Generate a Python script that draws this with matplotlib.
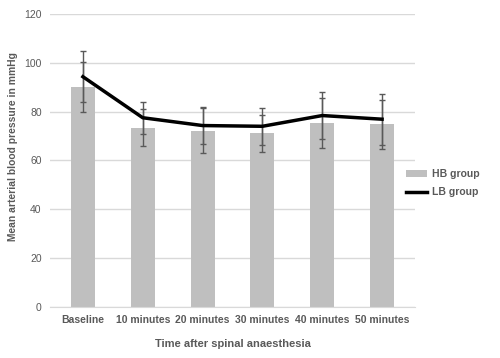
import matplotlib
matplotlib.use("Agg")

import matplotlib.pyplot as plt
import numpy as np

categories = ["Baseline", "10 minutes", "20 minutes", "30 minutes", "40 minutes", "50 minutes"]
hb_mean = [90.2, 73.4, 72.1, 71.1, 75.3, 74.9]
hb_err = [10.2, 7.6, 9.2, 7.7, 10.2, 10.0]
lb_mean = [94.3, 77.5, 74.3, 74.0, 78.4, 76.9]
lb_err = [10.4, 6.6, 7.6, 7.6, 9.7, 10.5]

plt.rcParams["font.family"] = ["Liberation Sans", "DejaVu Sans"]
grey_text = "#595959"

fig = plt.figure(figsize=(5, 3.58), dpi=100)
ax = fig.add_axes([0.1, 0.1425, 0.73, 0.8185])

x = np.arange(len(categories))

# ---- BARS ----
bars = ax.bar(x, hb_mean, width=0.4, color="#bfbfbf", label="HB group", zorder=2)
ax.errorbar(x, hb_mean, yerr=hb_err, fmt="none", ecolor="#595959",
            elinewidth=1, capsize=2.5, capthick=1, zorder=3)

# ---- LINE ----
line, = ax.plot(x, lb_mean, color="black", linewidth=2.5, label="LB group", zorder=4)
ax.errorbar(x, lb_mean, yerr=lb_err, fmt="none", ecolor="#595959",
            elinewidth=1, capsize=2.5, capthick=1, zorder=3)

# ---- AXES ----
ax.set_ylim(0, 120)
ax.set_yticks(range(0, 121, 20))
ax.set_xlim(-0.55, len(categories) - 0.45)
ax.set_xticks(x)
ax.set_xticklabels(categories)
ax.grid(axis="y", color="#d9d9d9", linewidth=1, zorder=0)
for s in ["top", "right", "left"]:
    ax.spines[s].set_visible(False)
ax.spines["bottom"].set_color("#d9d9d9")
ax.tick_params(length=0, labelsize=7.5, colors=grey_text, pad=6)
for lbl in ax.get_xticklabels():
    lbl.set_fontweight("bold")

ax.set_xlabel("Time after spinal anaesthesia", fontsize=8, fontweight="bold",
              color=grey_text, labelpad=10)
ax.set_ylabel("Mean arterial blood pressure in mmHg", fontsize=7.4, fontweight="bold",
              color=grey_text)
ax.yaxis.set_label_coords(-0.088, 0.546)

ax.legend([bars, line], ["HB group", "LB group"],
          loc="upper left", bbox_to_anchor=(0.812, 0.527), bbox_transform=fig.transFigure,
          frameon=False, labelcolor=grey_text, handlelength=2.0, handleheight=0.6,
          handletextpad=0.5, labelspacing=0.75, borderpad=0, borderaxespad=0,
          prop={"weight": "bold", "size": 7.5})

fig.savefig("out.png", dpi=100)
plt.close(fig)
